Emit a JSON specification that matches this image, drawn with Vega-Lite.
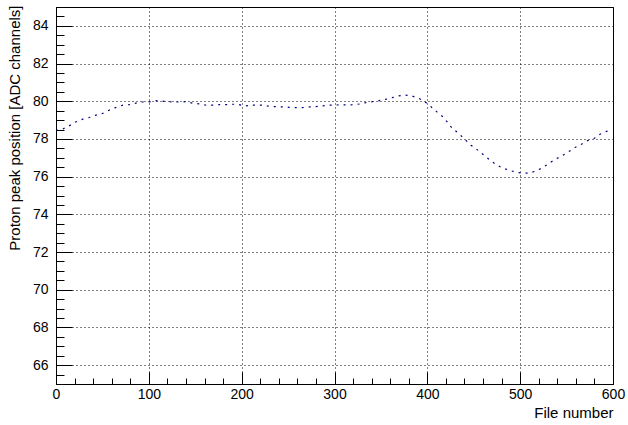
{
  "$schema": "https://vega.github.io/schema/vega-lite/v6.json",
  "width": 557,
  "height": 377,
  "autosize": "none",
  "padding": {"left": 56, "top": 7, "right": 15, "bottom": 41},
  "background": "white",
  "config": {
    "view": {"stroke": "black", "strokeWidth": 1},
    "font": "Liberation Sans"
  },
  "data": {
    "values": [
      {"file": 0, "peak": 78.45}, {"file": 7, "peak": 78.52}, {"file": 14, "peak": 78.69},
      {"file": 21, "peak": 78.9}, {"file": 29, "peak": 79.05}, {"file": 36, "peak": 79.14},
      {"file": 43, "peak": 79.26}, {"file": 50, "peak": 79.35}, {"file": 57, "peak": 79.52},
      {"file": 64, "peak": 79.66}, {"file": 72, "peak": 79.79}, {"file": 79, "peak": 79.82},
      {"file": 86, "peak": 79.9}, {"file": 93, "peak": 79.96}, {"file": 100, "peak": 79.96},
      {"file": 106, "peak": 80.03}, {"file": 113, "peak": 80.02}, {"file": 120, "peak": 79.98},
      {"file": 127, "peak": 79.96}, {"file": 134, "peak": 79.96}, {"file": 140, "peak": 79.98},
      {"file": 147, "peak": 79.9}, {"file": 154, "peak": 79.86}, {"file": 161, "peak": 79.8},
      {"file": 169, "peak": 79.79}, {"file": 176, "peak": 79.82}, {"file": 183, "peak": 79.82},
      {"file": 190, "peak": 79.84}, {"file": 196, "peak": 79.84}, {"file": 203, "peak": 79.75},
      {"file": 210, "peak": 79.79}, {"file": 217, "peak": 79.79}, {"file": 223, "peak": 79.79},
      {"file": 231, "peak": 79.72}, {"file": 237, "peak": 79.72}, {"file": 244, "peak": 79.7},
      {"file": 251, "peak": 79.68}, {"file": 258, "peak": 79.66}, {"file": 265, "peak": 79.66},
      {"file": 273, "peak": 79.7}, {"file": 280, "peak": 79.72}, {"file": 287, "peak": 79.75},
      {"file": 293, "peak": 79.79}, {"file": 300, "peak": 79.79}, {"file": 307, "peak": 79.82},
      {"file": 314, "peak": 79.8}, {"file": 321, "peak": 79.82}, {"file": 328, "peak": 79.86},
      {"file": 334, "peak": 79.93}, {"file": 341, "peak": 79.98}, {"file": 348, "peak": 80.03},
      {"file": 355, "peak": 80.1}, {"file": 362, "peak": 80.19}, {"file": 369, "peak": 80.28},
      {"file": 376, "peak": 80.33}, {"file": 384, "peak": 80.27}, {"file": 391, "peak": 80.15},
      {"file": 397, "peak": 79.98}, {"file": 403, "peak": 79.75}, {"file": 410, "peak": 79.45},
      {"file": 417, "peak": 79.17}, {"file": 422, "peak": 78.87}, {"file": 427, "peak": 78.55},
      {"file": 434, "peak": 78.29}, {"file": 440, "peak": 77.99}, {"file": 447, "peak": 77.67},
      {"file": 454, "peak": 77.42}, {"file": 461, "peak": 77.14}, {"file": 468, "peak": 76.86},
      {"file": 475, "peak": 76.61}, {"file": 482, "peak": 76.44}, {"file": 489, "peak": 76.33},
      {"file": 496, "peak": 76.23}, {"file": 503, "peak": 76.19}, {"file": 510, "peak": 76.19},
      {"file": 517, "peak": 76.3}, {"file": 524, "peak": 76.47}, {"file": 531, "peak": 76.7},
      {"file": 538, "peak": 76.93}, {"file": 545, "peak": 77.1}, {"file": 552, "peak": 77.32},
      {"file": 559, "peak": 77.55}, {"file": 566, "peak": 77.72}, {"file": 572, "peak": 77.9},
      {"file": 580, "peak": 78.04}, {"file": 586, "peak": 78.25}, {"file": 593, "peak": 78.4},
      {"file": 598, "peak": 78.5}
    ]
  },
  "mark": {"type": "line", "color": "#000080", "strokeDash": [2, 5], "strokeWidth": 1.2},
  "encoding": {
    "x": {
      "field": "file",
      "type": "quantitative",
      "scale": {"domain": [0, 600], "nice": false, "zero": false},
      "axis": {
        "title": "File number",
        "values": [0, 20, 40, 60, 80, 100, 120, 140, 160, 180, 200, 220, 240, 260, 280, 300, 320, 340, 360, 380, 400, 420, 440, 460, 480, 500, 520, 540, 560, 580, 600],
        "format": "d",
        "labelExpr": "datum.value % 100 === 0 ? datum.label : ''",
        "grid": true,
        "gridColor": "black",
        "gridDash": [1, 3],
        "gridWidth": 1,
        "gridOpacity": {"condition": {"test": "datum.value % 100 === 0", "value": 1}, "value": 0},
        "tickSize": {"condition": {"test": "datum.value % 100 === 0", "value": -12}, "value": -6},
        "tickColor": "black",
        "tickWidth": 1,
        "domainColor": "black",
        "labelFontSize": 14,
        "labelColor": "black",
        "labelBaseline": "alphabetic",
        "labelPadding": 26,
        "labelFlush": false,
        "labelOverlap": false,
        "titleFontSize": 15,
        "titleFontWeight": "normal",
        "titleColor": "black",
        "titleAnchor": "end",
        "titleAlign": "right",
        "titleBaseline": "alphabetic",
        "titleX": 557,
        "titleY": 33
      }
    },
    "y": {
      "field": "peak",
      "type": "quantitative",
      "scale": {"domain": [65, 85], "nice": false, "zero": false},
      "axis": {
        "title": "Proton peak position [ADC channels]",
        "values": [65, 65.5, 66, 66.5, 67, 67.5, 68, 68.5, 69, 69.5, 70, 70.5, 71, 71.5, 72, 72.5, 73, 73.5, 74, 74.5, 75, 75.5, 76, 76.5, 77, 77.5, 78, 78.5, 79, 79.5, 80, 80.5, 81, 81.5, 82, 82.5, 83, 83.5, 84, 84.5, 85],
        "format": ".0f",
        "labelExpr": "datum.value % 2 === 0 ? datum.label : ''",
        "grid": true,
        "gridColor": "black",
        "gridDash": [1, 3],
        "gridWidth": 1,
        "gridOpacity": {"condition": {"test": "datum.value % 2 === 0", "value": 1}, "value": 0},
        "tickSize": {"condition": {"test": "datum.value % 2 === 0", "value": -16}, "value": -8},
        "tickColor": "black",
        "tickWidth": 1,
        "domainColor": "black",
        "labelFontSize": 14,
        "labelColor": "black",
        "labelPadding": 24,
        "labelFlush": false,
        "labelOverlap": false,
        "titleFontSize": 15,
        "titleFontWeight": "normal",
        "titleColor": "black",
        "titleAnchor": "end",
        "titleAlign": "right",
        "titleAngle": -90,
        "titleBaseline": "alphabetic",
        "titleX": -37,
        "titleY": -2
      }
    }
  }
}
